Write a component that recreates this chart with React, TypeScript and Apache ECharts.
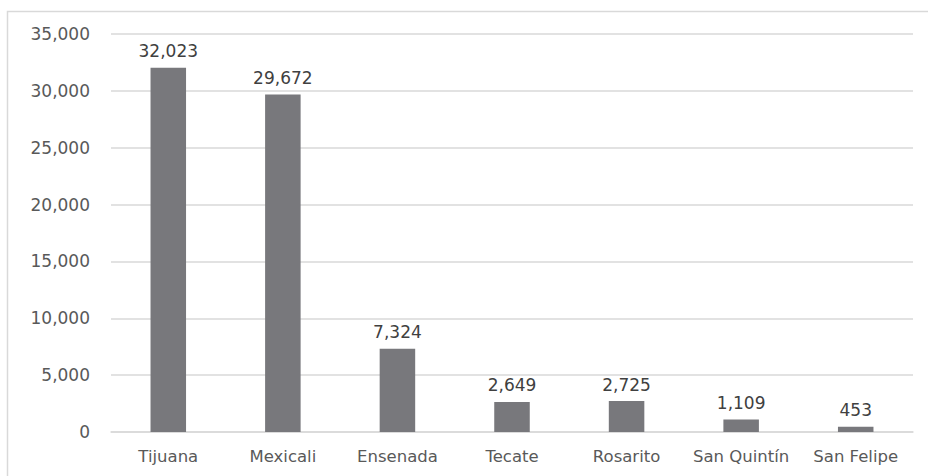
import React, { useEffect, useRef } from "react";
import * as echarts from "echarts";

const categories = ["Tijuana", "Mexicali", "Ensenada", "Tecate", "Rosarito", "San Quintín", "San Felipe"];
const values = [32023, 29672, 7324, 2649, 2725, 1109, 453];

export default function App() {
  const ref = useRef<HTMLDivElement>(null);
  useEffect(() => {
    const chart = echarts.init(ref.current!, null, { renderer: "svg" });
    const fmt = (v: number) => v.toLocaleString("en-US");
    chart.setOption({
      animation: false,
      textStyle: { fontFamily: "DejaVu Sans" },
      graphic: [
        {
          type: "rect",
          shape: { x: 7.5, y: 11.5, width: 940, height: 480 },
          style: { fill: "none", stroke: "#d9d9d9", lineWidth: 1.5 },
          silent: true,
        },
      ],
      grid: { left: 111, right: 15, top: 34, bottom: 44 },
      xAxis: {
        type: "category",
        data: categories,
        axisTick: { show: false },
        axisLine: { lineStyle: { color: "#d9d9d9", width: 1.5 } },
        axisLabel: { color: "#595959", fontSize: 16.5, margin: 16, interval: 0, hideOverlap: false },
      },
      yAxis: {
        type: "value",
        min: 0,
        max: 35000,
        interval: 5000,
        axisLine: { show: false },
        axisTick: { show: false },
        splitLine: { lineStyle: { color: "#d9d9d9", width: 1.5 } },
        axisLabel: { color: "#595959", fontSize: 17, margin: 21, formatter: (v: number) => fmt(v) },
      },
      series: [
        {
          type: "bar",
          data: values,
          barWidth: "31%",
          itemStyle: { color: "#78787c" },
          label: {
            show: true,
            position: "top",
            distance: 8,
            color: "#404040",
            fontSize: 17,
            formatter: (p: any) => fmt(p.value),
          },
        },
      ],
    });
    return () => chart.dispose();
  }, []);
  return <div ref={ref} style={{ width: 928, height: 476, position: "absolute", left: 0, top: 0, background: "#fff" }} />;
}
